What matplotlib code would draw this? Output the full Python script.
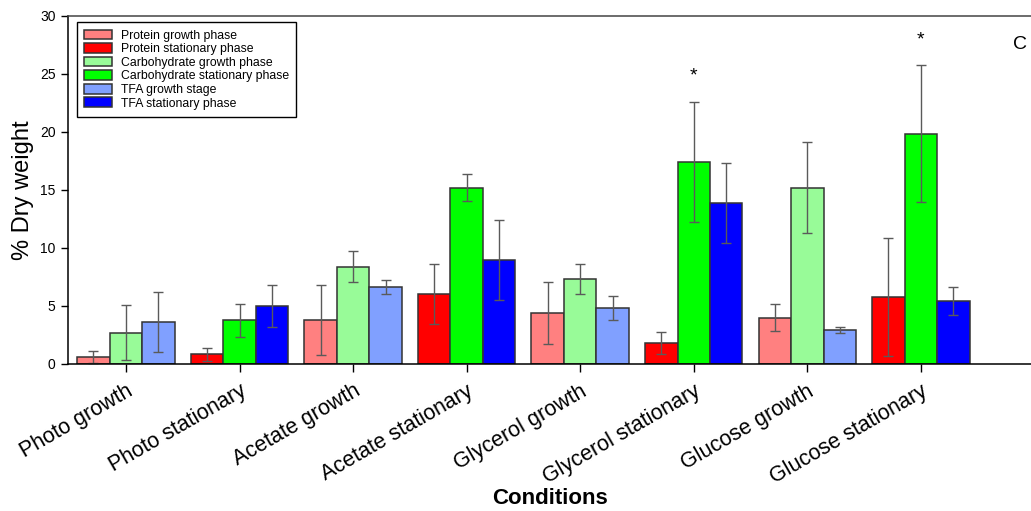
import numpy as np
import matplotlib
matplotlib.use("Agg")
import matplotlib.pyplot as plt

plt.rcParams['font.family'] = ['Liberation Sans', 'DejaVu Sans']

# conditions along the x axis (growth / stationary alternate)
conditions = ["Photo growth", "Photo stationary", "Acetate growth", "Acetate stationary",
              "Glycerol growth", "Glycerol stationary", "Glucose growth", "Glucose stationary"]

# growth phase values (Photo, Acetate, Glycerol, Glucose)
protein_growth = [0.6, 3.8, 4.4, 4.0]
protein_growth_sd = [0.5, 3.0, 2.7, 1.15]
carb_growth = [2.7, 8.4, 7.3, 15.2]
carb_growth_sd = [2.35, 1.3, 1.3, 3.95]
tfa_growth = [3.6, 6.6, 4.8, 2.95]
tfa_growth_sd = [2.6, 0.6, 1.05, 0.25]

# stationary phase values (Photo, Acetate, Glycerol, Glucose)
protein_stat = [0.85, 6.05, 1.85, 5.8]
protein_stat_sd = [0.55, 2.6, 0.95, 5.1]
carb_stat = [3.75, 15.2, 17.4, 19.85]
carb_stat_sd = [1.4, 1.15, 5.15, 5.9]
tfa_stat = [5.0, 8.95, 13.9, 5.4]
tfa_stat_sd = [1.85, 3.45, 3.45, 1.2]

# significance marks: (condition index, height)
stars = [(5, 24.8), (7, 27.95)]

series = [
    ("Protein growth phase", protein_growth, protein_growth_sd, "#ff8080", 0, -1),
    ("Protein stationary phase", protein_stat, protein_stat_sd, "#ff0000", 1, -1),
    ("Carbohydrate growth phase", carb_growth, carb_growth_sd, "#98fb98", 0, 0),
    ("Carbohydrate stationary phase", carb_stat, carb_stat_sd, "#00ff00", 1, 0),
    ("TFA growth stage", tfa_growth, tfa_growth_sd, "#80a0ff", 0, 1),
    ("TFA stationary phase", tfa_stat, tfa_stat_sd, "#0000ff", 1, 1),
]

fig = plt.figure(figsize=(10.31, 5.11), dpi=100)
ax = fig.add_axes([0.066, 0.2877, 0.934, 0.681])

width = 0.286
for label, vals, sds, col, phase, slot in series:
    x = np.arange(phase, 8, 2) + slot * width
    ax.bar(x, vals, width=width, color=col, edgecolor="#333333", linewidth=1.1, label=label)
    ax.errorbar(x, vals, yerr=sds, fmt="none", ecolor="#5a5a5a", elinewidth=1.0,
                capsize=3.3, capthick=1.0)

for idx, h in stars:
    ax.text(idx, h, "*", ha="center", va="center", fontsize=14)

ax.set_xlim(-0.51, 7.97)
ax.set_ylim(0, 30)
ax.set_yticks([0, 5, 10, 15, 20, 25, 30])
ax.set_xticks(np.arange(8))
ax.set_xticklabels(conditions, rotation=30, ha="right", rotation_mode="anchor", fontsize=15.5)
ax.tick_params(axis="y", direction="out", length=5, width=1, labelsize=10, pad=4)
ax.tick_params(axis="x", direction="out", length=6, width=1, pad=6)
ax.spines["right"].set_visible(False)
for s in ["left", "bottom", "top"]:
    ax.spines[s].set_linewidth(1.1)
ax.spines["top"].set_color("#444444")

ax.set_ylabel("% Dry weight", fontsize=17, labelpad=4)
ax.set_xlabel("Conditions", fontsize=16, fontweight="bold", labelpad=0)

leg = ax.legend(loc="upper left", bbox_to_anchor=(0.009, 0.982), fontsize=8.8,
                frameon=True, fancybox=False, edgecolor="black", framealpha=1,
                handlelength=2.3, handleheight=0.85, labelspacing=0.12,
                handletextpad=0.7, borderpad=0.6, borderaxespad=0)
leg.get_frame().set_linewidth(1.0)

fig.text(0.989, 0.912, "C", fontsize=14, ha="center", va="center")

fig.savefig("out.png", dpi=100)
